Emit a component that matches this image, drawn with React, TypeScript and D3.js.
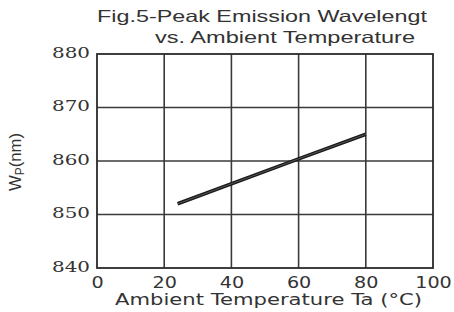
import React, { useEffect, useRef } from "react";
import * as d3 from "d3";

const width = 454;
const height = 312;
const marginTop = 54;
const marginRight = 21;
const marginBottom = 44;
const marginLeft = 97;

const xTicks = [0, 20, 40, 60, 80, 100];
const yTicks = [840, 850, 860, 870, 880];
const temperature = [24, 60, 80];
const wavelength = [852, 860.4, 865];

const titleLines = ["Fig.5-Peak Emission Wavelengt", "vs. Ambient Temperature"];
const xLabel = "Ambient Temperature Ta (°C)";

export default function App() {
  const ref = useRef<SVGSVGElement>(null);

  useEffect(() => {
    const svg = d3.select(ref.current);
    svg.selectAll("*").remove();

    const x = d3
      .scaleLinear()
      .domain([0, 100])
      .range([marginLeft, width - marginRight]);
    const y = d3
      .scaleLinear()
      .domain([840, 880])
      .range([height - marginBottom, marginTop]);

    svg.append("rect").attr("width", width).attr("height", height).attr("fill", "#fff");

    // grid
    const grid = svg.append("g").attr("stroke", "#3a3a3a").attr("stroke-width", 1.6);
    grid
      .selectAll(".vx")
      .data(xTicks.slice(1, -1))
      .join("line")
      .attr("x1", d => x(d))
      .attr("x2", d => x(d))
      .attr("y1", y(880))
      .attr("y2", y(840));
    grid
      .selectAll(".hy")
      .data(yTicks.slice(1, -1))
      .join("line")
      .attr("x1", x(0))
      .attr("x2", x(100))
      .attr("y1", d => y(d))
      .attr("y2", d => y(d));
    svg
      .append("rect")
      .attr("x", x(0))
      .attr("y", y(880))
      .attr("width", x(100) - x(0))
      .attr("height", y(840) - y(880))
      .attr("fill", "none")
      .attr("stroke", "#2a2a2a")
      .attr("stroke-width", 1.8);

    // axes
    svg
      .append("g")
      .attr("transform", `translate(0,${height - marginBottom})`)
      .call(d3.axisBottom(x).tickValues(xTicks).tickSize(0).tickPadding(9))
      .call(g => g.select(".domain").remove())
      .call(g =>
        g
          .selectAll("text")
          .attr("font-family", "DejaVu Sans, Verdana, sans-serif")
          .attr("font-size", 15)
          .attr("fill", "#333")
          .attr("textLength", (d: any) => String(d).length * 12.2)
          .attr("lengthAdjust", "spacingAndGlyphs")
      );

    svg
      .append("g")
      .attr("transform", `translate(${marginLeft},0)`)
      .call(d3.axisLeft(y).tickValues(yTicks).tickSize(0).tickPadding(7))
      .call(g => g.select(".domain").remove())
      .call(g =>
        g
          .selectAll("text")
          .attr("font-family", "DejaVu Serif, serif")
          .attr("font-size", 15)
          .attr("fill", "#333")
          .attr("dy", "0.2em")
          .attr("textLength", 38)
          .attr("lengthAdjust", "spacingAndGlyphs")
      );

    // line
    const pts = temperature.map((t, i) => [t, wavelength[i]] as [number, number]);
    const line = d3
      .line<[number, number]>()
      .x(d => x(d[0]))
      .y(d => y(d[1]));
    svg
      .append("path")
      .datum(pts)
      .attr("fill", "none")
      .attr("stroke", "#1a1a1a")
      .attr("stroke-width", 3.6)
      .attr("d", line);
    svg
      .append("path")
      .datum(pts)
      .attr("fill", "none")
      .attr("stroke", "#555")
      .attr("stroke-width", 1)
      .attr("d", line);

    // title
    const font = "Liberation Sans, Arial, sans-serif";
    svg
      .append("text")
      .attr("x", 97)
      .attr("y", 22)
      .attr("font-family", font)
      .attr("font-size", 16.5)
      .attr("fill", "#333")
      .attr("textLength", 330)
      .attr("lengthAdjust", "spacingAndGlyphs")
      .text(titleLines[0]);
    svg
      .append("text")
      .attr("x", 155)
      .attr("y", 43)
      .attr("font-family", font)
      .attr("font-size", 16.5)
      .attr("fill", "#333")
      .attr("textLength", 260)
      .attr("lengthAdjust", "spacingAndGlyphs")
      .text(titleLines[1]);

    svg
      .append("text")
      .attr("x", 115)
      .attr("y", 305)
      .attr("font-family", "DejaVu Sans, Verdana, sans-serif")
      .attr("font-size", 15.5)
      .attr("fill", "#333")
      .attr("textLength", 307)
      .attr("lengthAdjust", "spacingAndGlyphs")
      .text(xLabel);

    const yl = svg
      .append("text")
      .attr("transform", "translate(21,191) rotate(-90)")
      .attr("font-family", font)
      .attr("font-size", 17)
      .attr("fill", "#333")
      .attr("textLength", 58)
      .attr("lengthAdjust", "spacingAndGlyphs");
    yl.append("tspan").text("W");
    yl.append("tspan").attr("font-size", 12).attr("dy", 3).text("P");
    yl.append("tspan").attr("dy", -3).text("(nm)");
  }, []);

  return (
    <svg
      ref={ref}
      width={width}
      height={height}
      viewBox={`0 0 ${width} ${height}`}
      style={{ position: "absolute", left: 0, top: 0 }}
    ></svg>
  );
}
